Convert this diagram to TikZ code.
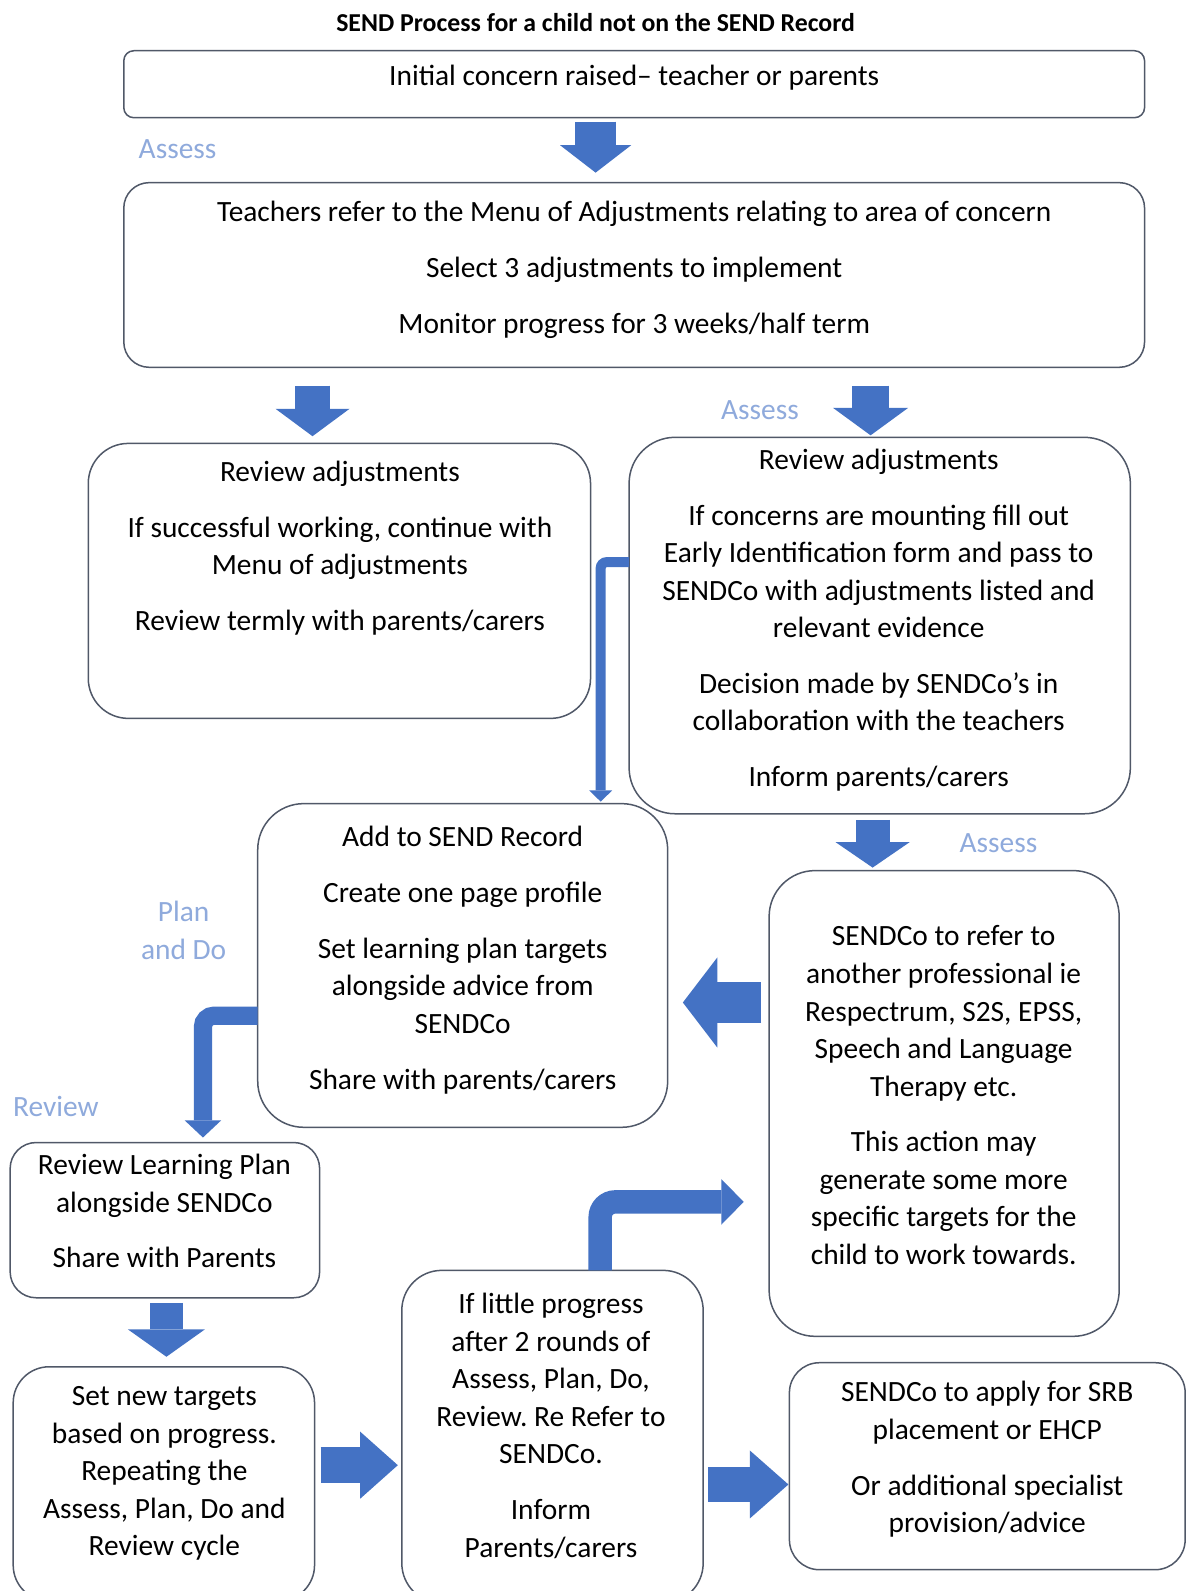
\documentclass[tikz,border=0pt]{standalone}
\usepackage{fontspec}
\setmainfont{Carlito}
\usetikzlibrary{arrows.meta,fit}
\definecolor{arr}{RGB}{68,114,196}
\definecolor{edge}{RGB}{80,88,104}
\definecolor{lab}{RGB}{143,170,220}
\frenchspacing
\begin{document}
\begin{tikzpicture}[x=0.50725pt,y=-0.50725pt,
 box/.style={draw=edge, line width=0.75pt, fill=white, inner sep=0pt, outer sep=0pt},
 tx/.style={font=\fontsize{14.7}{18.77}\selectfont, align=center, inner sep=0pt, anchor=north},
 lb/.style={font=\fontsize{14.7}{18.77}\selectfont, text=lab, align=center, inner sep=0pt},
 blk/.style={draw=arr, line cap=butt, line join=miter}
]
\useasboundingbox (0,0) rectangle (1170,1568);
\clip (0,0) rectangle (1170,1568);
\fill[white] (0,0) rectangle (1170,1568);

\node[font=\bfseries\fontsize{12.9}{15}\selectfont, inner sep=0pt] (title) at (587,22) {SEND Process for a child not on the SEND Record};

% boxes
\node[box, rounded corners=5pt, fit={(122,50) (1128,116)}] (b1) {};
\node[box, rounded corners=12.7pt, fit={(122,180) (1128,362)}] (b2) {};
\node[box, rounded corners=20pt, fit={(87,437) (582,708)}] (b3) {};
\node[box, rounded corners=23pt, fit={(620,431) (1114,802)}] (b4) {};
\node[box, rounded corners=23pt, fit={(254,792) (658,1111)}] (b5) {};
\node[box, rounded corners=23pt, fit={(758,858) (1103,1317)}] (b6) {};
\node[box, rounded corners=13pt, fit={(10,1126) (315,1279)}] (b7) {};
\node[box, rounded corners=18pt, fit={(13,1347) (310,1578)}] (b8) {};
\node[box, rounded corners=20pt, fit={(396,1252) (693,1580)}] (b9) {};
\node[box, rounded corners=15pt, fit={(778,1343) (1168,1547)}] (b10) {};

% texts
\node[tx] (t1) at (625,64) {Initial concern raised– teacher or parents};
\node[tx] (t2) at (625,198) {Teachers refer to the Menu of Adjustments relating to area of concern\\[9.1pt]
Select 3 adjustments to implement\\[9.1pt]
Monitor progress for 3 weeks/half term};
\node[tx] (t3) at (335,454) {Review adjustments\\[9.1pt]
If successful working, continue with\\
Menu of adjustments\\[9.1pt]
Review termly with parents/carers};
\node[tx] (t4) at (866,442) {Review adjustments\\[9.1pt]
If concerns are mounting fill out\\
Early Identification form and pass to\\
SENDCo with adjustments listed and\\
relevant evidence\\[9.1pt]
Decision made by SENDCo’s in\\
collaboration with the teachers\\[9.1pt]
Inform parents/carers};
\node[tx] (t5) at (456,814) {Add to SEND Record\\[9.1pt]
Create one page profile\\[9.1pt]
Set learning plan targets\\
alongside advice from\\
SENDCo\\[9.1pt]
Share with parents/carers};
\node[tx] (t6) at (930,912) {SENDCo to refer to\\
another professional ie\\
Respectrum, S2S, EPSS,\\
Speech and Language\\
Therapy etc.\\[9.1pt]
This action may\\
generate some more\\
specific targets for the\\
child to work towards.};
\node[tx] (t7) at (162,1137) {Review Learning Plan\\
alongside SENDCo\\[9.1pt]
Share with Parents};
\node[tx] (t8) at (162,1366) {Set new targets\\
based on progress.\\
Repeating the\\
Assess, Plan, Do and\\
Review cycle};
\node[tx] (t9) at (543,1274) {If little progress\\
after 2 rounds of\\
Assess, Plan, Do,\\
Review. Re Refer to\\
SENDCo.\\[9.1pt]
Inform\\
Parents/carers};
\node[tx] (t10) at (973,1361) {SENDCo to apply for SRB\\
placement or EHCP\\[9.1pt]
Or additional specialist\\
provision/advice};

% labels
\node[lb] (l1) at (175,147) {Assess};
\node[lb] (l2) at (749,404) {Assess};
\node[lb] (l3) at (984,831) {Assess};
\node[lb] (l4) at (181,917) {Plan\\and Do};
\node[lb] (l5) at (55,1090) {Review};

% arrows
\draw[blk, line width=20.3pt, -{Triangle[width=35.5pt,length=13.7pt,line width=0pt]}, shorten <=2pt, shorten >=5pt]
  (b1.south -| 587,0) -- (b2.north -| 587,0);
\draw[blk, line width=17.8pt, -{Triangle[width=37pt,length=13.7pt,line width=0pt]}, shorten <=9.1pt, shorten >=3.6pt]
  (b2.south -| 308,0) -- (b3.north -| 308,0);
\draw[blk, line width=18.8pt, -{Triangle[width=37.5pt,length=13.7pt,line width=0pt]}, shorten <=9.1pt, shorten >=1pt]
  (b2.south -| 858,0) -- (b4.north -| 858,0);
\draw[blk, line width=5pt, rounded corners=3pt, -{Triangle[width=11.5pt,length=5.6pt,line width=0pt]}, shorten >=1pt]
  (b4.west |- 0,554) -| (b5.north -| 592,0);
\draw[blk, line width=17pt, -{Triangle[width=37pt,length=12.7pt,line width=0pt]}, shorten <=3pt, shorten >=1.5pt]
  (b4.south -| 860,0) -- (b6.north -| 860,0);
\draw[blk, line width=20.3pt, -{Triangle[width=45pt,length=17.2pt,line width=0pt]}, shorten <=4pt, shorten >=7.6pt]
  (b6.west |- 0,988) -- (b5.east |- 0,988);
\draw[blk, line width=9.1pt, rounded corners=5.6pt, -{Triangle[width=18.3pt,length=8.6pt,line width=0pt]}, shorten >=2.5pt]
  (b5.west |- 0,1001) -| (b7.north -| 200,0);
\draw[blk, line width=16.2pt, -{Triangle[width=38.5pt,length=13.7pt,line width=0pt]}, shorten <=2.5pt, shorten >=5pt]
  (b7.south -| 164,0) -- (b8.north -| 164,0);
\draw[blk, line width=17.8pt, -{Triangle[width=33.5pt,length=18.8pt,line width=0pt]}, shorten <=3pt, shorten >=2pt]
  (b8.east |- 0,1444) -- (b9.west |- 0,1444);
\draw[blk, line width=11.7pt, rounded corners=7.6pt, -{Triangle[width=22.8pt,length=11.2pt,line width=0pt]}, shorten >=12.7pt]
  (b9.north -| 591.5,0) |- (b6.west |- 0,1184.5);
\draw[blk, line width=17.2pt, -{Triangle[width=34pt,length=19.3pt,line width=0pt]}, shorten <=2.5pt, shorten >=0.5pt]
  (b9.east |- 0,1463) -- (b10.west |- 0,1463);
\end{tikzpicture}
\end{document}
